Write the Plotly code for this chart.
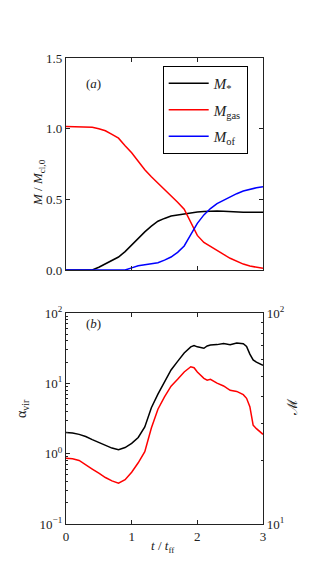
import plotly.graph_objects as go

# panel (a): mass fractions vs time
t_a = [0.0, 0.1, 0.2, 0.3, 0.4, 0.5, 0.6, 0.7, 0.8, 0.9, 1.0, 1.1, 1.2, 1.3, 1.4, 1.5,
       1.6, 1.7, 1.8, 1.9, 2.0, 2.1, 2.2, 2.3, 2.4, 2.5, 2.6, 2.7, 2.8, 2.9, 3.0]
m_star = [0.0, 0.0, 0.0, 0.0, 0.0, 0.02, 0.045, 0.068, 0.092, 0.13, 0.177, 0.225, 0.27, 0.31,
          0.345, 0.365, 0.382, 0.39, 0.398, 0.406, 0.41, 0.414, 0.418, 0.418, 0.416, 0.412,
          0.409, 0.408, 0.408, 0.408, 0.408]
m_gas = [1.015, 1.015, 1.015, 1.013, 1.01, 1.0, 0.985, 0.96, 0.933, 0.88, 0.83, 0.77, 0.71,
         0.66, 0.615, 0.575, 0.53, 0.48, 0.43, 0.34, 0.245, 0.195, 0.165, 0.14, 0.11, 0.083,
         0.06, 0.042, 0.028, 0.018, 0.012]
m_of = [0.0, 0.0, 0.0, 0.0, 0.0, 0.0, 0.0, 0.0, 0.0, 0.0, 0.015, 0.03, 0.038, 0.045, 0.052,
        0.07, 0.092, 0.125, 0.17, 0.25, 0.33, 0.39, 0.435, 0.47, 0.495, 0.52, 0.54, 0.559,
        0.572, 0.582, 0.59]

# panel (b): virial parameter (left) and Mach number (right)
t_b = [0.0, 0.1, 0.2, 0.3, 0.4, 0.5, 0.6, 0.7, 0.8, 0.9, 1.0, 1.1, 1.2, 1.3, 1.4, 1.5, 1.6,
       1.7, 1.8, 1.9, 1.95, 2.0, 2.1, 2.15, 2.2, 2.3, 2.4, 2.5, 2.6, 2.7, 2.75, 2.8, 2.85,
       2.9, 3.0]
alpha_vir = [2.0, 1.97, 1.88, 1.75, 1.58, 1.45, 1.32, 1.2, 1.14, 1.22, 1.4, 1.7, 2.4, 4.5,
             7.0, 10.5, 15.5, 20.5, 27.0, 33.0, 34.5, 33.0, 31.5, 34.0, 35.0, 35.5, 36.7,
             35.5, 37.5, 36.5, 33.5, 26.0, 21.5, 20.0, 18.0]
mach = [20.5, 20.4, 20.0, 19.0, 18.2, 17.4, 16.6, 16.0, 15.6, 16.2, 17.6, 19.5, 22.0, 28.5,
        35.0, 40.0, 45.0, 48.5, 52.5, 55.6, 55.0, 52.5, 49.0, 48.0, 48.5, 46.5, 45.1, 43.0,
        42.5, 41.0, 39.4, 36.0, 29.4, 28.3, 26.6]

x_ticks = [0, 1, 2, 3]
ya_ticks = [0.0, 0.5, 1.0, 1.5]
yb_ticks = [0.1, 1, 10, 100]
yb_text = ["10<sup>\u22121</sup>", "10<sup>0</sup>", "10<sup>1</sup>", "10<sup>2</sup>"]
yc_ticks = [10, 100]
yc_text = ["10<sup>1</sup>", "10<sup>2</sup>"]

FONT = "Liberation Serif"
AX = "#222222"

fig = go.Figure()
fig.add_trace(go.Scatter(x=t_a, y=m_star, mode="lines", name="<i>M</i><sub>*</sub>",
                         line=dict(color="black", width=1.5), xaxis="x", yaxis="y",
                         legendgroup="a"))
fig.add_trace(go.Scatter(x=t_a, y=m_gas, mode="lines", name="<i>M</i><sub>gas</sub>",
                         line=dict(color="#ff0000", width=1.5), xaxis="x", yaxis="y",
                         legendgroup="b"))
fig.add_trace(go.Scatter(x=t_a, y=m_of, mode="lines", name="<i>M</i><sub>of</sub>",
                         line=dict(color="#0000ff", width=1.5), xaxis="x", yaxis="y",
                         legendgroup="c"))
fig.add_trace(go.Scatter(x=t_b, y=alpha_vir, mode="lines", showlegend=False,
                         line=dict(color="black", width=1.5), xaxis="x2", yaxis="y2"))
fig.add_trace(go.Scatter(x=t_b, y=mach, mode="lines", showlegend=False,
                         line=dict(color="#ff0000", width=1.5), xaxis="x2", yaxis="y3"))

common = dict(showline=True, linecolor=AX, linewidth=1.4, ticks="inside", tickcolor=AX,
              ticklen=4, showgrid=False, zeroline=False, automargin=False,
              tickfont=dict(family=FONT, size=13, color="#222"))

# page body has an 8px margin, so the figure is sized to fit the window
fig.update_layout(
    width=322, height=576,
    margin=dict(l=0, r=0, t=0, b=0),
    paper_bgcolor="white", plot_bgcolor="white",
    font=dict(family=FONT, size=13, color="#222"),
    xaxis=dict(domain=[0.1801, 0.7919], anchor="y", range=[0, 3], tickvals=x_ticks,
               showticklabels=False, mirror="ticks", **common),
    yaxis=dict(domain=[0.5451, 0.9132], anchor="x", range=[0, 1.5], tickvals=ya_ticks,
               tickformat=".1f", mirror="ticks", **common),
    xaxis2=dict(domain=[0.1801, 0.7919], anchor="y2", range=[0, 3], tickvals=x_ticks,
                mirror="ticks", **common),
    yaxis2=dict(domain=[0.1042, 0.4705], anchor="x2", type="log", range=[-1, 2],
                tickvals=yb_ticks, ticktext=yb_text,
                minor=dict(ticks="inside", ticklen=2, tickcolor=AX, dtick="D1"),
                **common),
    yaxis3=dict(overlaying="y2", anchor="x2", side="right", type="log", range=[1, 2],
                tickvals=yc_ticks, ticktext=yc_text,
                minor=dict(ticks="inside", ticklen=2, tickcolor=AX, dtick="D1"),
                **common),
    legend=dict(x=0.4804, y=0.8993, xanchor="left", yanchor="top", bordercolor="black",
                borderwidth=1, bgcolor="white", font=dict(family=FONT, size=15),
                tracegroupgap=4, itemwidth=40),
    showlegend=True,
)

ann = [
    dict(x=0.236, y=0.8854, text="(<i>a</i>)", size=13, angle=0, f=FONT),
    dict(x=0.236, y=0.4531, text="(<i>b</i>)", size=13, angle=0, f=FONT),
    dict(x=0.0621, y=0.7413, text="<i>M</i> / <i>M</i><sub>cl,0</sub>", size=13, angle=-90, f=FONT),
    dict(x=0.0124, y=0.2847, text="\u03b1<sub>vir</sub>", size=14, angle=-90, f=FONT),
    dict(x=0.913, y=0.288, text="\u2133", size=14, angle=-90, f="DejaVu Serif"),
    dict(x=0.481, y=0.0469, text="<i>t</i> / <i>t</i><sub>ff</sub>", size=13, angle=0, f=FONT),
]
for a in ann:
    fig.add_annotation(x=a["x"], y=a["y"], xref="paper", yref="paper", text=a["text"],
                       showarrow=False, textangle=a["angle"],
                       font=dict(family=a["f"], size=a["size"], color="#222"))

fig.write_html("out.html")
